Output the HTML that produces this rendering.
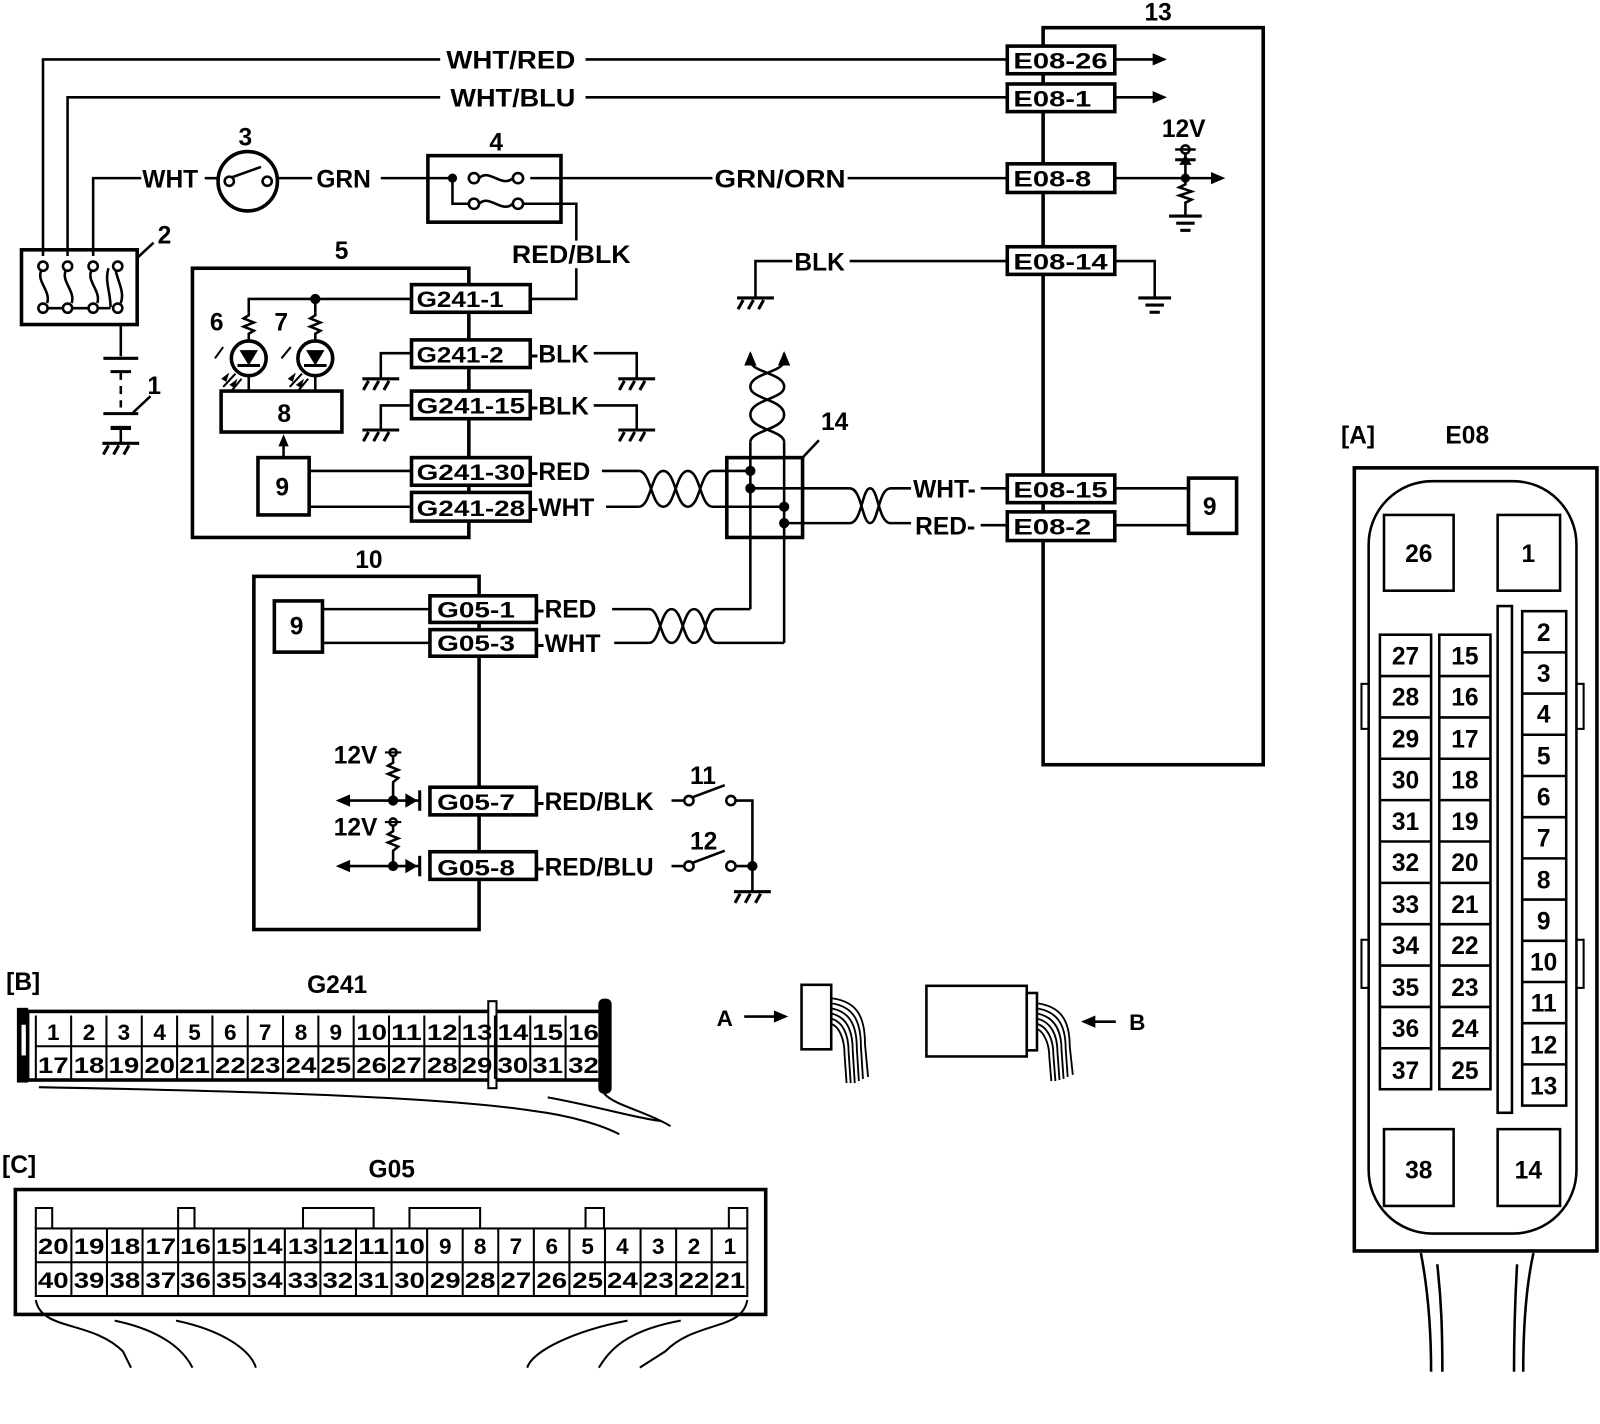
<!DOCTYPE html>
<html><head><meta charset="utf-8"><style>
html,body{margin:0;padding:0;background:#fff}
svg{display:block}
text{font-family:"Liberation Sans",Arial,sans-serif;font-weight:bold;fill:#000}
</style></head><body>
<svg width="1600" height="1424" viewBox="0 0 1563 1391" xmlns="http://www.w3.org/2000/svg">
<defs>
<g id="gh" stroke="#000" stroke-width="3" fill="none">
<line x1="-18" y1="0" x2="18" y2="0"/><line x1="-12" y1="2" x2="-17" y2="11"/><line x1="-2" y1="2" x2="-7" y2="11"/><line x1="8" y1="2" x2="3" y2="11"/>
</g>
<g id="ge" stroke="#000" stroke-width="3" fill="none">
<line x1="-16" y1="0" x2="16" y2="0"/><line x1="-9" y1="7" x2="9" y2="7"/><line x1="-5" y1="14" x2="5" y2="14"/>
</g>
</defs>
<g stroke="#000" stroke-width="2.5" fill="none">
<rect x="1019" y="27" width="215" height="720" stroke-width="3.5"/>
<polyline points="42,250 42,58 430,58"/><line x1="572" y1="58" x2="984" y2="58"/>
<polyline points="66,250 66,95 430,95"/><line x1="572" y1="95" x2="984" y2="95"/>
<line x1="1089" y1="58" x2="1128" y2="58"/><line x1="1089" y1="95" x2="1128" y2="95"/>
<polyline points="91,250 91,174 138,174"/>
<line x1="200" y1="174" x2="212" y2="174"/>
<line x1="272" y1="174" x2="305" y2="174"/>
<line x1="372" y1="174" x2="440" y2="174"/>
<line x1="518" y1="174" x2="696" y2="174"/>
<line x1="828" y1="174" x2="984" y2="174"/>
<line x1="1089" y1="174" x2="1185" y2="174"/>
<circle cx="1158" cy="146" r="4"/><line x1="1148" y1="146" x2="1168" y2="146"/>
<line x1="1148" y1="156" x2="1168" y2="156" stroke-width="3"/>
<line x1="1158" y1="150" x2="1158" y2="174"/>
<polyline points="1158,174 1158,180 1152,183 1164,187 1152,191 1164,195 1158,198 1158,210"/>
<polyline points="738,290 738,255 774,255"/><line x1="830" y1="255" x2="984" y2="255"/>
<polyline points="1089,255 1128,255 1128,290"/>
<circle cx="242" cy="177" r="29" stroke-width="3.5"/>
<circle cx="224" cy="177" r="4.5"/><circle cx="261" cy="177" r="4.5"/>
<line x1="227" y1="173" x2="255" y2="163"/>
<rect x="418" y="152" width="130" height="65" stroke-width="3.5"/>
<circle cx="463" cy="174" r="5"/><circle cx="506" cy="174" r="5"/>
<circle cx="463" cy="199" r="5"/><circle cx="506" cy="199" r="5"/>
<path d="M468,174 C478,164 490,184 501,174"/><path d="M468,199 C478,189 490,209 501,199"/>
<polyline points="442,174 442,199 458,199"/>
<polyline points="511,199 563,199 563,235"/>
<polyline points="563,262 563,292 518,292"/>
<rect x="21" y="244" width="113" height="73" stroke-width="3.5"/>
<circle cx="42" cy="260" r="4.5"/><circle cx="66" cy="260" r="4.5"/><circle cx="91" cy="260" r="4.5"/><circle cx="115" cy="260" r="4.5"/>
<circle cx="42" cy="301" r="4.5"/><circle cx="66" cy="301" r="4.5"/><circle cx="91" cy="301" r="4.5"/><circle cx="115" cy="301" r="4.5"/>
<path d="M40,265 C36,275 50,285 46,296"/><path d="M64,265 C60,275 74,285 70,296"/><path d="M89,265 C85,275 99,285 95,296"/>
<path d="M106,262 C102,275 108,285 108,300"/><path d="M113,264 C115,275 122,285 118,296"/>
<line x1="46" y1="301" x2="62" y2="301"/><line x1="70" y1="301" x2="87" y2="301"/><line x1="95" y1="301" x2="108" y2="301"/>
<line x1="134" y1="252" x2="150" y2="237"/>
<line x1="118" y1="317" x2="118" y2="348"/>
<line x1="101" y1="350" x2="135" y2="350" stroke-width="3"/>
<line x1="108" y1="363" x2="128" y2="363" stroke-width="3"/>
<line x1="118" y1="363" x2="118" y2="398" stroke-dasharray="8,6"/>
<line x1="101" y1="404" x2="135" y2="404" stroke-width="3"/>
<line x1="108" y1="418" x2="128" y2="418" stroke-width="4"/>
<line x1="118" y1="418" x2="118" y2="432"/>
<line x1="130" y1="403" x2="147" y2="387"/>
<rect x="188" y="262" width="270" height="263" stroke-width="3.5"/>
<polyline points="402,292 243,292 243,305"/>
<polyline points="243,305 243,308 238,311 248,315 238,319 248,323 243,326 243,333"/>
<polyline points="308,305 308,308 303,311 313,315 303,319 313,323 308,326 308,333"/>
<line x1="308" y1="292" x2="308" y2="305"/>
<circle cx="243" cy="350" r="17" stroke-width="3.5"/><circle cx="308" cy="350" r="17" stroke-width="3.5"/>
<line x1="243" y1="367" x2="243" y2="382"/><line x1="308" y1="367" x2="308" y2="382"/>
<line x1="232" y1="357" x2="254" y2="357" stroke-width="3"/><line x1="297" y1="357" x2="319" y2="357" stroke-width="3"/>
<line x1="210" y1="350" x2="218" y2="339" stroke-width="2"/><line x1="275" y1="350" x2="284" y2="339" stroke-width="2"/>
<line x1="230" y1="365" x2="218" y2="378" stroke-width="2"/><line x1="236" y1="370" x2="226" y2="382" stroke-width="2"/>
<line x1="295" y1="365" x2="283" y2="378" stroke-width="2"/><line x1="301" y1="370" x2="291" y2="382" stroke-width="2"/>
<rect x="216" y="382" width="118" height="40" stroke-width="3.5"/>
<rect x="252" y="447" width="50" height="56" stroke-width="3.5"/>
<line x1="277" y1="447" x2="277" y2="432"/>
<line x1="302" y1="460" x2="402" y2="460"/><line x1="302" y1="495" x2="402" y2="495"/>
<polyline points="402,345 372,345 372,370"/><polyline points="402,396 372,396 372,420"/>
<polyline points="580,345 622,345 622,370"/><polyline points="580,396 622,396 622,420"/>
<line x1="588" y1="460" x2="624" y2="460"/><line x1="592" y1="495" x2="624" y2="495"/>
<path d="M624,460 C636,460 636,495 648,495 C660,495 660,460 672,460 C684,460 684,495 696,495 L766,495"/>
<path d="M624,495 C636,495 636,460 648,460 C660,460 660,495 672,495 C684,495 684,460 696,460 L733,460"/>
<rect x="710" y="447" width="74" height="78" stroke-width="3.5"/>
<line x1="784" y1="447" x2="800" y2="430"/>
<line x1="733" y1="432" x2="733" y2="595"/>
<line x1="766" y1="432" x2="766" y2="628"/>
<path d="M733,432 C733,420 766,420 766,405 C766,390 733,390 733,378 C733,364 766,364 766,352"/>
<path d="M766,432 C766,420 733,420 733,405 C733,390 766,390 766,378 C766,364 733,364 733,352"/>
<line x1="733" y1="352" x2="733" y2="345"/><line x1="766" y1="352" x2="766" y2="345"/>
<line x1="733" y1="477" x2="830" y2="477"/><line x1="766" y1="511" x2="830" y2="511"/>
<path d="M830,477 C842,477 842,511 850,511 C858,511 858,477 870,477 L890,477"/>
<path d="M830,511 C842,511 842,477 850,477 C858,477 858,511 870,511 L890,511"/>
<line x1="958" y1="477" x2="984" y2="477"/><line x1="958" y1="513" x2="984" y2="513"/>
<line x1="1089" y1="477" x2="1161" y2="477"/><line x1="1089" y1="513" x2="1161" y2="513"/>
<rect x="1161" y="467" width="47" height="54" stroke-width="3.5"/>
<rect x="248" y="563" width="220" height="345" stroke-width="3.5"/>
<rect x="268" y="587" width="47" height="50" stroke-width="3.5"/>
<line x1="315" y1="595" x2="420" y2="595"/><line x1="315" y1="628" x2="420" y2="628"/>
<line x1="598" y1="595" x2="634" y2="595"/><line x1="600" y1="628" x2="634" y2="628"/>
<path d="M634,595 C645,595 645,628 656,628 C667,628 667,595 678,595 C689,595 689,628 700,628 L766,628"/>
<path d="M634,628 C645,628 645,595 656,595 C667,595 667,628 678,628 C689,628 689,595 700,595 L733,595"/>
<circle cx="384" cy="735" r="3.5"/><line x1="376" y1="735" x2="392" y2="735" stroke-width="2"/>
<polyline points="384,739 384,745 379,748 389,752 379,756 389,760 384,764 384,782"/>
<circle cx="384" cy="803" r="3.5"/><line x1="376" y1="803" x2="392" y2="803" stroke-width="2"/>
<polyline points="384,807 384,812 379,815 389,819 379,823 389,827 384,831 384,846"/>
<line x1="338" y1="782" x2="410" y2="782"/><line x1="338" y1="846" x2="410" y2="846"/>
<line x1="410" y1="772" x2="410" y2="792" stroke-width="3"/><line x1="410" y1="836" x2="410" y2="856" stroke-width="3"/>
<line x1="656" y1="782" x2="668" y2="782"/><line x1="656" y1="846" x2="668" y2="846"/>
<circle cx="673" cy="782" r="4.5"/><circle cx="714" cy="782" r="4.5"/>
<circle cx="673" cy="846" r="4.5"/><circle cx="714" cy="846" r="4.5"/>
<line x1="676" y1="779" x2="708" y2="767"/><line x1="676" y1="843" x2="708" y2="831"/>
<polyline points="719,782 735,782 735,870"/><line x1="719" y1="846" x2="735" y2="846"/>
</g>
<g fill="#000">
<polygon points="1140,58 1126,52 1126,64"/><polygon points="1140,95 1126,89 1126,101"/>
<polygon points="1197,174 1183,168 1183,180"/>
<polygon points="1158,151 1152,161 1164,161"/>
<circle cx="1158" cy="174" r="4.5"/>
<circle cx="442" cy="174" r="4.5"/>
<circle cx="308" cy="292" r="5"/>
<polygon points="234,342 252,342 243,357"/><polygon points="299,342 317,342 308,357"/>
<polygon points="277,424 272,436 282,436"/>
<polygon points="216,370 224,364 221,373"/><polygon points="224,376 232,370 229,379"/>
<polygon points="281,370 289,364 286,373"/><polygon points="289,376 297,370 294,379"/>
<polygon points="733,343 727,357 739,357"/><polygon points="766,343 760,357 772,357"/>
<circle cx="733" cy="460" r="5"/><circle cx="733" cy="477" r="5"/><circle cx="766" cy="495" r="5"/><circle cx="766" cy="511" r="5"/>
<circle cx="384" cy="782" r="5"/><circle cx="384" cy="846" r="5"/><circle cx="735" cy="846" r="5"/>
<polygon points="328,782 342,776 342,788"/><polygon points="328,846 342,840 342,852"/>
<polygon points="408,782 396,775 396,789"/><polygon points="408,846 396,839 396,853"/>
</g>
<use href="#ge" x="1158" y="211"/>
<use href="#ge" x="1128" y="291"/>
<use href="#gh" x="738" y="291"/>
<use href="#gh" x="118" y="433"/>
<use href="#gh" x="372" y="370"/><use href="#gh" x="372" y="420"/>
<use href="#gh" x="622" y="370"/><use href="#gh" x="622" y="420"/>
<use href="#gh" x="735" y="871"/>
<g fill="#fff" stroke="#000" stroke-width="3.5">
<rect x="984" y="45" width="105" height="27"/><rect x="984" y="82" width="105" height="27"/>
<rect x="984" y="160" width="105" height="28"/><rect x="984" y="241" width="105" height="27"/>
<rect x="984" y="464" width="105" height="27"/><rect x="984" y="500" width="105" height="28"/>
<rect x="402" y="278" width="116" height="27"/><rect x="402" y="332" width="116" height="27"/>
<rect x="402" y="382" width="116" height="27"/><rect x="402" y="447" width="116" height="27"/>
<rect x="402" y="481" width="116" height="28"/>
<rect x="420" y="582" width="104" height="26"/><rect x="420" y="615" width="104" height="26"/>
<rect x="420" y="769" width="104" height="27"/><rect x="420" y="832" width="104" height="27"/>
</g>
<g font-size="22">
<text x="990" y="67" textLength="92" lengthAdjust="spacingAndGlyphs">E08-26</text>
<text x="990" y="104" textLength="76" lengthAdjust="spacingAndGlyphs">E08-1</text>
<text x="990" y="182" textLength="76" lengthAdjust="spacingAndGlyphs">E08-8</text>
<text x="990" y="263" textLength="92" lengthAdjust="spacingAndGlyphs">E08-14</text>
<text x="990" y="486" textLength="92" lengthAdjust="spacingAndGlyphs">E08-15</text>
<text x="990" y="522" textLength="76" lengthAdjust="spacingAndGlyphs">E08-2</text>
<text x="407" y="300" textLength="85" lengthAdjust="spacingAndGlyphs">G241-1</text>
<text x="407" y="354" textLength="85" lengthAdjust="spacingAndGlyphs">G241-2</text>
<text x="407" y="404" textLength="106" lengthAdjust="spacingAndGlyphs">G241-15</text>
<text x="407" y="469" textLength="106" lengthAdjust="spacingAndGlyphs">G241-30</text>
<text x="407" y="504" textLength="106" lengthAdjust="spacingAndGlyphs">G241-28</text>
<text x="427" y="603" textLength="76" lengthAdjust="spacingAndGlyphs">G05-1</text>
<text x="427" y="636" textLength="76" lengthAdjust="spacingAndGlyphs">G05-3</text>
<text x="427" y="791" textLength="76" lengthAdjust="spacingAndGlyphs">G05-7</text>
<text x="427" y="855" textLength="76" lengthAdjust="spacingAndGlyphs">G05-8</text>
</g>
<g font-size="24">
<text x="436" y="67" textLength="126" lengthAdjust="spacingAndGlyphs">WHT/RED</text>
<text x="440" y="104" textLength="122" lengthAdjust="spacingAndGlyphs">WHT/BLU</text>
<text x="139" y="183">WHT</text>
<text x="309" y="183">GRN</text>
<text x="698" y="183" textLength="128" lengthAdjust="spacingAndGlyphs">GRN/ORN</text>
<text x="500" y="257" textLength="116" lengthAdjust="spacingAndGlyphs">RED/BLK</text>
<text x="776" y="264">BLK</text>
<text x="518" y="354">-BLK</text>
<text x="518" y="405">-BLK</text>
<text x="518" y="469">-RED</text>
<text x="518" y="504">-WHT</text>
<text x="892" y="486">WHT-</text>
<text x="894" y="522">RED-</text>
<text x="524" y="603">-RED</text>
<text x="524" y="637">-WHT</text>
<text x="524" y="791">-RED/BLK</text>
<text x="524" y="855">-RED/BLU</text>
<text x="326" y="746">12V</text>
<text x="326" y="816">12V</text>
<text x="1135" y="134">12V</text>
<text x="1118" y="20">13</text>
<text x="233" y="142">3</text>
<text x="478" y="147">4</text>
<text x="154" y="238">2</text>
<text x="327" y="253">5</text>
<text x="144" y="385">1</text>
<text x="205" y="323">6</text>
<text x="268" y="323">7</text>
<text x="271" y="412">8</text>
<text x="269" y="484">9</text>
<text x="1175" y="503">9</text>
<text x="283" y="620">9</text>
<text x="802" y="420">14</text>
<text x="347" y="555">10</text>
<text x="674" y="766">11</text>
<text x="674" y="830">12</text>
<text x="1310" y="433">[A]</text>
<text x="1412" y="433" font-weight="normal">E08</text>
<text x="6" y="967">[B]</text>
<text x="300" y="970" font-weight="normal">G241</text>
<text x="2" y="1146">[C]</text>
<text x="360" y="1150" font-weight="normal">G05</text>
<text x="700" y="1002" font-size="22">A</text>
<text x="1103" y="1006" font-size="22">B</text>
</g>
<g stroke="#000" stroke-width="2.5" fill="none">
<line x1="727" y1="993" x2="758" y2="993"/><line x1="1060" y1="998" x2="1090" y2="998"/>
<rect x="783" y="962" width="29" height="63"/>
<rect x="905" y="963" width="98" height="69"/><rect x="1003" y="970" width="10" height="56"/>
<g stroke-width="1.8">
<path d="M812,975 C835,978 845,990 845,1020 L848,1052"/><path d="M812,980 C832,983 841,995 841,1022 L843,1054"/>
<path d="M812,985 C829,988 837,1000 837,1024 L839,1056"/><path d="M812,990 C826,993 833,1005 833,1026 L835,1058"/>
<path d="M812,995 C823,998 829,1010 829,1028 L831,1058"/><path d="M812,1000 C820,1003 825,1015 825,1030 L827,1058"/>
<path d="M1013,980 C1035,983 1045,995 1045,1022 L1048,1050"/><path d="M1013,985 C1032,988 1041,1000 1041,1024 L1043,1052"/>
<path d="M1013,990 C1029,993 1037,1005 1037,1026 L1039,1054"/><path d="M1013,995 C1026,998 1033,1010 1033,1028 L1035,1055"/>
<path d="M1013,1000 C1023,1003 1029,1015 1029,1030 L1031,1056"/><path d="M1013,1005 C1020,1008 1025,1020 1025,1032 L1027,1056"/>
</g>
</g>
<g fill="#000"><polygon points="770,993 756,987 756,999"/><polygon points="1056,998 1070,992 1070,1004"/></g>
<g stroke="#000" fill="none">
<rect x="17" y="985" width="10" height="72" fill="#000"/>
<rect x="20" y="1000" width="7" height="32" fill="#fff" stroke-width="2"/>
<rect x="27" y="988" width="563" height="67" stroke-width="3.5"/>
<rect x="477" y="978" width="8" height="85" fill="#fff" stroke-width="2"/>
<rect x="585" y="976" width="12" height="92" rx="5" fill="#000"/>
<line x1="35" y1="1022" x2="585" y2="1022" stroke-width="2"/>
<path d="M38,1062 C200,1065 420,1070 520,1085 C560,1090 590,1100 605,1108" stroke-width="2"/>
<path d="M535,1072 C580,1080 620,1092 645,1095" stroke-width="2"/>
<path d="M590,1068 C600,1080 630,1085 655,1100" stroke-width="2"/>
<g stroke-width="2">
<line x1="35" y1="992" x2="35" y2="1054"/>
<line x1="69.5" y1="992" x2="69.5" y2="1054"/><line x1="104" y1="992" x2="104" y2="1054"/><line x1="138.5" y1="992" x2="138.5" y2="1054"/><line x1="173" y1="992" x2="173" y2="1054"/><line x1="207.5" y1="992" x2="207.5" y2="1054"/><line x1="242" y1="992" x2="242" y2="1054"/><line x1="276.5" y1="992" x2="276.5" y2="1054"/><line x1="311" y1="992" x2="311" y2="1054"/><line x1="345.5" y1="992" x2="345.5" y2="1054"/><line x1="380" y1="992" x2="380" y2="1054"/><line x1="414.5" y1="992" x2="414.5" y2="1054"/><line x1="449" y1="992" x2="449" y2="1054"/><line x1="483.5" y1="992" x2="483.5" y2="1054"/><line x1="518" y1="992" x2="518" y2="1054"/><line x1="552.5" y1="992" x2="552.5" y2="1054"/>
</g>
</g>
<g font-size="22" text-anchor="middle">
<text x="52" y="1016">1</text><text x="87" y="1016">2</text><text x="121" y="1016">3</text><text x="156" y="1016">4</text><text x="190" y="1016">5</text><text x="225" y="1016">6</text><text x="259" y="1016">7</text><text x="294" y="1016">8</text><text x="328" y="1016">9</text>
<text x="363" y="1016" textLength="30" lengthAdjust="spacingAndGlyphs">10</text><text x="397" y="1016" textLength="30" lengthAdjust="spacingAndGlyphs">11</text><text x="432" y="1016" textLength="30" lengthAdjust="spacingAndGlyphs">12</text><text x="466" y="1016" textLength="30" lengthAdjust="spacingAndGlyphs">13</text><text x="501" y="1016" textLength="30" lengthAdjust="spacingAndGlyphs">14</text><text x="535" y="1016" textLength="30" lengthAdjust="spacingAndGlyphs">15</text><text x="570" y="1016" textLength="30" lengthAdjust="spacingAndGlyphs">16</text>
<text x="52" y="1048" textLength="30" lengthAdjust="spacingAndGlyphs">17</text><text x="87" y="1048" textLength="30" lengthAdjust="spacingAndGlyphs">18</text><text x="121" y="1048" textLength="30" lengthAdjust="spacingAndGlyphs">19</text><text x="156" y="1048" textLength="30" lengthAdjust="spacingAndGlyphs">20</text><text x="190" y="1048" textLength="30" lengthAdjust="spacingAndGlyphs">21</text><text x="225" y="1048" textLength="30" lengthAdjust="spacingAndGlyphs">22</text><text x="259" y="1048" textLength="30" lengthAdjust="spacingAndGlyphs">23</text><text x="294" y="1048" textLength="30" lengthAdjust="spacingAndGlyphs">24</text><text x="328" y="1048" textLength="30" lengthAdjust="spacingAndGlyphs">25</text><text x="363" y="1048" textLength="30" lengthAdjust="spacingAndGlyphs">26</text><text x="397" y="1048" textLength="30" lengthAdjust="spacingAndGlyphs">27</text><text x="432" y="1048" textLength="30" lengthAdjust="spacingAndGlyphs">28</text><text x="466" y="1048" textLength="30" lengthAdjust="spacingAndGlyphs">29</text><text x="501" y="1048" textLength="30" lengthAdjust="spacingAndGlyphs">30</text><text x="535" y="1048" textLength="30" lengthAdjust="spacingAndGlyphs">31</text><text x="570" y="1048" textLength="30" lengthAdjust="spacingAndGlyphs">32</text>
</g>
<g stroke="#000" fill="none">
<rect x="15" y="1162" width="733" height="122" stroke-width="3.5"/>
<rect x="35" y="1200" width="695" height="66" stroke-width="2"/>
<line x1="35" y1="1233" x2="730" y2="1233" stroke-width="2"/>
<g stroke-width="2">
<line x1="69.75" y1="1200" x2="69.75" y2="1266"/><line x1="104.5" y1="1200" x2="104.5" y2="1266"/><line x1="139.25" y1="1200" x2="139.25" y2="1266"/><line x1="174" y1="1200" x2="174" y2="1266"/><line x1="208.75" y1="1200" x2="208.75" y2="1266"/><line x1="243.5" y1="1200" x2="243.5" y2="1266"/><line x1="278.25" y1="1200" x2="278.25" y2="1266"/><line x1="313" y1="1200" x2="313" y2="1266"/><line x1="347.75" y1="1200" x2="347.75" y2="1266"/><line x1="382.5" y1="1200" x2="382.5" y2="1266"/><line x1="417.25" y1="1200" x2="417.25" y2="1266"/><line x1="452" y1="1200" x2="452" y2="1266"/><line x1="486.75" y1="1200" x2="486.75" y2="1266"/><line x1="521.5" y1="1200" x2="521.5" y2="1266"/><line x1="556.25" y1="1200" x2="556.25" y2="1266"/><line x1="591" y1="1200" x2="591" y2="1266"/><line x1="625.75" y1="1200" x2="625.75" y2="1266"/><line x1="660.5" y1="1200" x2="660.5" y2="1266"/><line x1="695.25" y1="1200" x2="695.25" y2="1266"/>
<polyline points="35,1200 35,1180 51,1180 51,1200"/><polyline points="174,1200 174,1180 190,1180 190,1200"/>
<polyline points="296,1200 296,1180 365,1180 365,1200"/><polyline points="400,1200 400,1180 469,1180 469,1200"/>
<polyline points="572,1200 572,1180 590,1180 590,1200"/><polyline points="712,1200 712,1180 730,1180 730,1200"/>
<path d="M35,1270 C40,1300 90,1290 120,1320 L128,1336"/>
<path d="M112,1290 C160,1300 180,1320 188,1336"/>
<path d="M172,1290 C220,1300 245,1320 250,1336"/>
<path d="M730,1270 C725,1300 680,1290 650,1320 L625,1336"/>
<path d="M665,1290 C610,1300 595,1320 585,1336"/>
<path d="M613,1290 C560,1300 520,1320 515,1336"/>
</g>
</g>
<g font-size="22" text-anchor="middle">
<text x="52" y="1225" textLength="30" lengthAdjust="spacingAndGlyphs">20</text><text x="87" y="1225" textLength="30" lengthAdjust="spacingAndGlyphs">19</text><text x="122" y="1225" textLength="30" lengthAdjust="spacingAndGlyphs">18</text><text x="157" y="1225" textLength="30" lengthAdjust="spacingAndGlyphs">17</text><text x="191" y="1225" textLength="30" lengthAdjust="spacingAndGlyphs">16</text><text x="226" y="1225" textLength="30" lengthAdjust="spacingAndGlyphs">15</text><text x="261" y="1225" textLength="30" lengthAdjust="spacingAndGlyphs">14</text><text x="296" y="1225" textLength="30" lengthAdjust="spacingAndGlyphs">13</text><text x="330" y="1225" textLength="30" lengthAdjust="spacingAndGlyphs">12</text><text x="365" y="1225" textLength="30" lengthAdjust="spacingAndGlyphs">11</text><text x="400" y="1225" textLength="30" lengthAdjust="spacingAndGlyphs">10</text><text x="435" y="1225">9</text><text x="469" y="1225">8</text><text x="504" y="1225">7</text><text x="539" y="1225">6</text><text x="574" y="1225">5</text><text x="608" y="1225">4</text><text x="643" y="1225">3</text><text x="678" y="1225">2</text><text x="713" y="1225">1</text>
<text x="52" y="1258" textLength="30" lengthAdjust="spacingAndGlyphs">40</text><text x="87" y="1258" textLength="30" lengthAdjust="spacingAndGlyphs">39</text><text x="122" y="1258" textLength="30" lengthAdjust="spacingAndGlyphs">38</text><text x="157" y="1258" textLength="30" lengthAdjust="spacingAndGlyphs">37</text><text x="191" y="1258" textLength="30" lengthAdjust="spacingAndGlyphs">36</text><text x="226" y="1258" textLength="30" lengthAdjust="spacingAndGlyphs">35</text><text x="261" y="1258" textLength="30" lengthAdjust="spacingAndGlyphs">34</text><text x="296" y="1258" textLength="30" lengthAdjust="spacingAndGlyphs">33</text><text x="330" y="1258" textLength="30" lengthAdjust="spacingAndGlyphs">32</text><text x="365" y="1258" textLength="30" lengthAdjust="spacingAndGlyphs">31</text><text x="400" y="1258" textLength="30" lengthAdjust="spacingAndGlyphs">30</text><text x="435" y="1258" textLength="30" lengthAdjust="spacingAndGlyphs">29</text><text x="469" y="1258" textLength="30" lengthAdjust="spacingAndGlyphs">28</text><text x="504" y="1258" textLength="30" lengthAdjust="spacingAndGlyphs">27</text><text x="539" y="1258" textLength="30" lengthAdjust="spacingAndGlyphs">26</text><text x="574" y="1258" textLength="30" lengthAdjust="spacingAndGlyphs">25</text><text x="608" y="1258" textLength="30" lengthAdjust="spacingAndGlyphs">24</text><text x="643" y="1258" textLength="30" lengthAdjust="spacingAndGlyphs">23</text><text x="678" y="1258" textLength="30" lengthAdjust="spacingAndGlyphs">22</text><text x="713" y="1258" textLength="30" lengthAdjust="spacingAndGlyphs">21</text>
</g>
<g stroke="#000" fill="none">
<rect x="1323" y="457" width="237" height="765" stroke-width="3.5"/>
<rect x="1337" y="470" width="203" height="735" rx="62" stroke-width="2.5"/>
<rect x="1330" y="668" width="7" height="44" stroke-width="2"/><rect x="1330" y="918" width="7" height="47" stroke-width="2"/>
<rect x="1540" y="668" width="7" height="44" stroke-width="2"/><rect x="1540" y="918" width="7" height="47" stroke-width="2"/>
<rect x="1352" y="503" width="68" height="74" stroke-width="2.5"/><rect x="1463" y="503" width="61" height="74" stroke-width="2.5"/>
<rect x="1352" y="1103" width="68" height="75" stroke-width="2.5"/><rect x="1463" y="1103" width="61" height="75" stroke-width="2.5"/>
<rect x="1463" y="592" width="14" height="495" stroke-width="2.5"/>
<g stroke-width="2.5">
<rect x="1348" y="620" width="50" height="444"/><rect x="1406" y="620" width="50" height="444"/>
<rect x="1487" y="597" width="43" height="483"/>
<path d="M1348,660.4 H1398 M1348,700.8 H1398 M1348,741.2 H1398 M1348,781.6 H1398 M1348,822 H1398 M1348,862.4 H1398 M1348,902.8 H1398 M1348,943.2 H1398 M1348,983.6 H1398 M1348,1024 H1398"/>
<path d="M1406,660.4 H1456 M1406,700.8 H1456 M1406,741.2 H1456 M1406,781.6 H1456 M1406,822 H1456 M1406,862.4 H1456 M1406,902.8 H1456 M1406,943.2 H1456 M1406,983.6 H1456 M1406,1024 H1456"/>
<path d="M1487,637.25 H1530 M1487,677.5 H1530 M1487,717.75 H1530 M1487,758 H1530 M1487,798.25 H1530 M1487,838.5 H1530 M1487,878.75 H1530 M1487,919 H1530 M1487,959.25 H1530 M1487,999.5 H1530 M1487,1039.75 H1530"/>
</g>
<g stroke-width="2.5">
<path d="M1388,1224 C1395,1260 1398,1300 1398,1340"/><path d="M1404,1235 C1408,1270 1409,1300 1409,1340"/>
<path d="M1498,1224 C1490,1260 1488,1300 1488,1340"/><path d="M1482,1235 C1480,1270 1479,1300 1479,1340"/>
</g>
</g>
<g font-size="24" text-anchor="middle">
<text x="1386" y="549">26</text><text x="1493" y="549">1</text>
<text x="1386" y="1151">38</text><text x="1493" y="1151">14</text>
<text x="1373" y="649">27</text><text x="1373" y="689">28</text><text x="1373" y="730">29</text><text x="1373" y="770">30</text><text x="1373" y="811">31</text><text x="1373" y="851">32</text><text x="1373" y="892">33</text><text x="1373" y="932">34</text><text x="1373" y="973">35</text><text x="1373" y="1013">36</text><text x="1373" y="1054">37</text>
<text x="1431" y="649">15</text><text x="1431" y="689">16</text><text x="1431" y="730">17</text><text x="1431" y="770">18</text><text x="1431" y="811">19</text><text x="1431" y="851">20</text><text x="1431" y="892">21</text><text x="1431" y="932">22</text><text x="1431" y="973">23</text><text x="1431" y="1013">24</text><text x="1431" y="1054">25</text>
<text x="1508" y="626">2</text><text x="1508" y="666">3</text><text x="1508" y="706">4</text><text x="1508" y="747">5</text><text x="1508" y="787">6</text><text x="1508" y="827">7</text><text x="1508" y="868">8</text><text x="1508" y="908">9</text><text x="1508" y="948">10</text><text x="1508" y="988">11</text><text x="1508" y="1029">12</text><text x="1508" y="1069">13</text>
</g>
</svg>
</body></html>
